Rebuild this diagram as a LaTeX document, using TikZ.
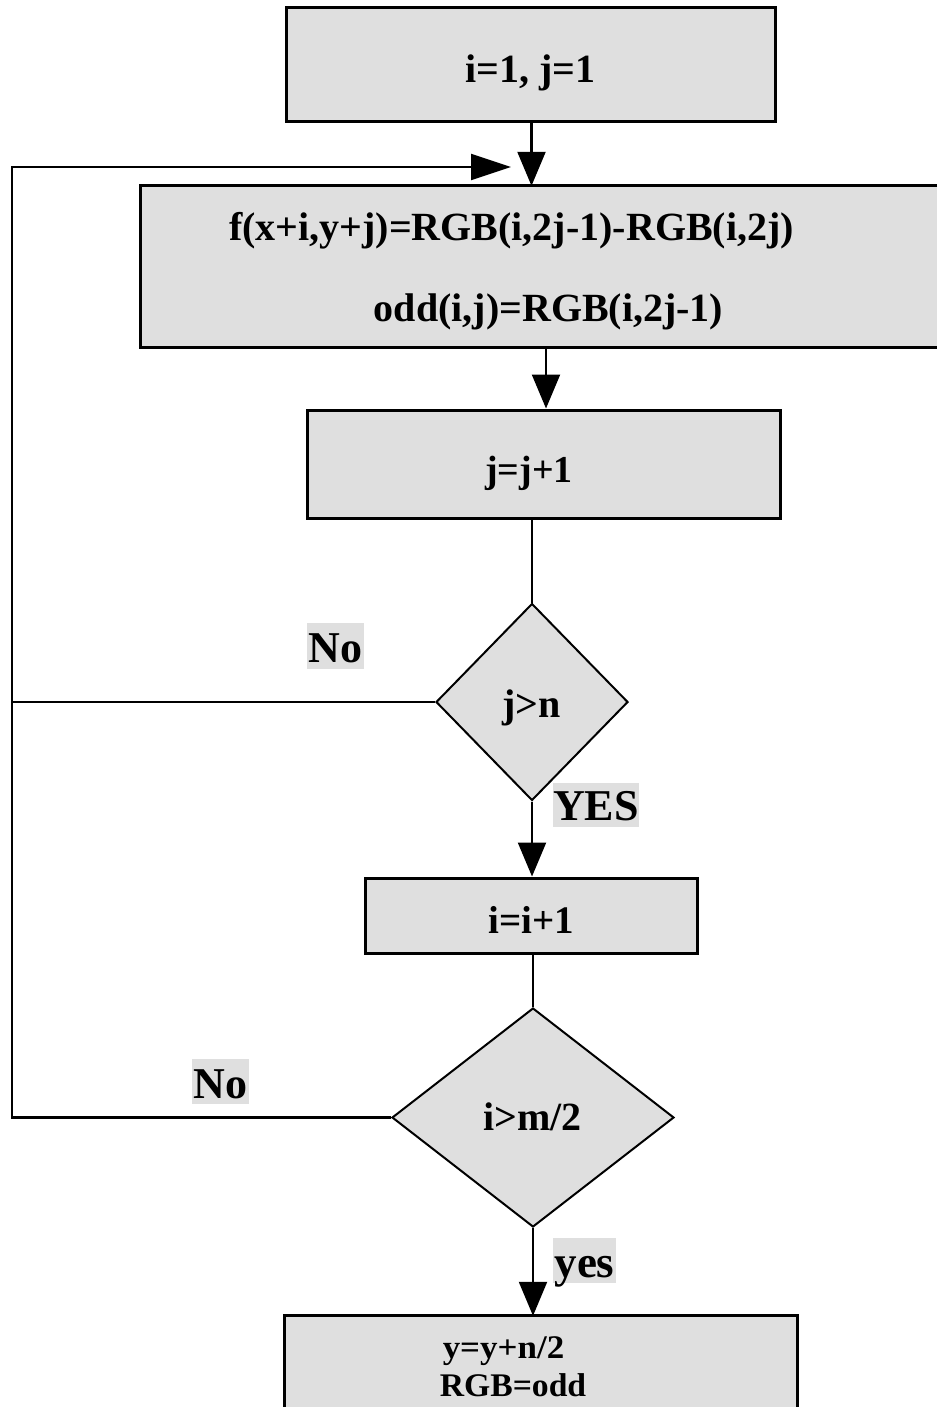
\documentclass[tikz,border=0pt]{standalone}
\usepackage{fontspec}
\setmainfont{Liberation Serif}
\usetikzlibrary{shapes.geometric,arrows.meta}
\definecolor{boxgray}{RGB}{223,223,223}
% horizontally widened text
\newcommand{\hstretch}[2]{\scalebox{#1}[1]{#2}}

\begin{document}
\begin{tikzpicture}[x=1pt,y=-1pt,
  boxframe/.style={rectangle,draw=black,line width=3pt,fill=boxgray,inner sep=0pt},
  boxfill/.style={rectangle,fill=boxgray,inner sep=0pt},
  decision/.style={diamond,draw=black,line width=2pt,fill=boxgray,inner sep=0pt},
  tagbg/.style={rectangle,fill=boxgray,inner sep=0pt},
  txt/.style={anchor=base,inner sep=0pt},
  conn/.style={draw=black,line width=2.2pt},
  arr/.style={conn,-{Triangle[length=34pt,width=28pt]}},
  harr/.style={conn,-{Triangle[length=40pt,width=26pt]}}]

\useasboundingbox (0,0) rectangle (937,1407);

% process boxes
\node[boxframe,minimum width=489pt,minimum height=114pt] (b1) at (530.5,65) {};
\node[boxfill,minimum width=796pt,minimum height=161pt] (b2) at (539,266.5) {};
\draw[line width=3pt] (b2.north east) -- (b2.north west) -- (b2.south west) -- (b2.south east);
\node[boxframe,minimum width=473pt,minimum height=108pt] (b3) at (543.5,464) {};
\node[boxframe,minimum width=332pt,minimum height=75pt] (b4) at (531,915.5) {};
\node[boxfill,minimum width=512pt,minimum height=91pt] (b5) at (541,1361.5) {};
\draw[line width=3pt] (b5.south west) -- (b5.north west) -- (b5.north east) -- (b5.south east);

% decisions
\node[decision,minimum width=192pt,minimum height=197pt] (d1) at (532,702) {};
\node[decision,minimum width=282pt,minimum height=219pt] (d2) at (533,1117.5) {};

% texts
\node[txt,font=\fontsize{40}{44}\selectfont\bfseries] (t1) at (530.5,83) {i=1, j=1};
\node[txt,font=\fontsize{40}{44}\selectfont\bfseries] (t2a) at (511.5,240) {f(x+i,y+j)=RGB(i,2j-1)-RGB(i,2j)};
\node[txt,font=\fontsize{40}{44}\selectfont\bfseries] (t2b) at (548.5,321) {odd(i,j)=RGB(i,2j-1)};
\node[txt,font=\fontsize{38}{42}\selectfont\bfseries] (t3) at (529,482) {j=j+1};
\node[txt,font=\fontsize{40}{44}\selectfont\bfseries] (td1) at (531.5,717) {j>n};
\node[txt,font=\fontsize{39}{43}\selectfont\bfseries] (t4) at (531.5,933) {i=i+1};
\node[txt,font=\fontsize{40}{44}\selectfont\bfseries] (td2) at (532.5,1130) {i>m/2};
\node[txt,font=\fontsize{33}{36}\selectfont\bfseries] (t5a) at (503.5,1358) {\hstretch{1.06}{y=y+n/2}};
\node[txt,font=\fontsize{33}{36}\selectfont\bfseries] (t5b) at (513,1396) {\hstretch{1.02}{RGB=odd}};

% branch labels
\node[tagbg,minimum width=57pt,minimum height=46pt] (no1) at (335.5,646) {};
\node[txt,font=\fontsize{44}{48}\selectfont\bfseries] (no1t) at (335.5,662) {No};
\node[tagbg,minimum width=86pt,minimum height=44pt] (yes1) at (596,805) {};
\node[txt,font=\fontsize{44}{48}\selectfont\bfseries] (yes1t) at (596,820) {YES};
\node[tagbg,minimum width=57pt,minimum height=45pt] (no2) at (220.5,1081.5) {};
\node[txt,font=\fontsize{44}{48}\selectfont\bfseries] (no2t) at (220.5,1098) {No};
\node[tagbg,minimum width=63pt,minimum height=45pt] (yes2) at (584.5,1260.5) {};
\node[txt,font=\fontsize{45}{48}\selectfont\bfseries] (yes2t) at (584.5,1277) {yes};

% loop-back rail and its arrow end
\coordinate (rail) at (12,0);
\coordinate (looptip) at (511,167);

% connectors
\draw[arr] (b1.south -| 531.5,0) -- (b2.north -| 531.5,0);
\draw[arr] (b2.south -| 546,0) -- (b3.north -| 546,0);
\draw[conn] (d1.north |- b3.south) -- (d1.north);
\draw[arr] (d1.south) -- (d1.south |- b4.north);
\draw[conn] (d2.north |- b4.south) -- (d2.north);
\draw[arr] (d2.south) -- (d2.south |- b5.north);
\draw[conn] (d1.west) -- (d1.west -| rail);
\draw[harr] (d2.west) -- (d2.west -| rail) -- (rail |- looptip) -- (looptip);

\end{tikzpicture}
\end{document}
